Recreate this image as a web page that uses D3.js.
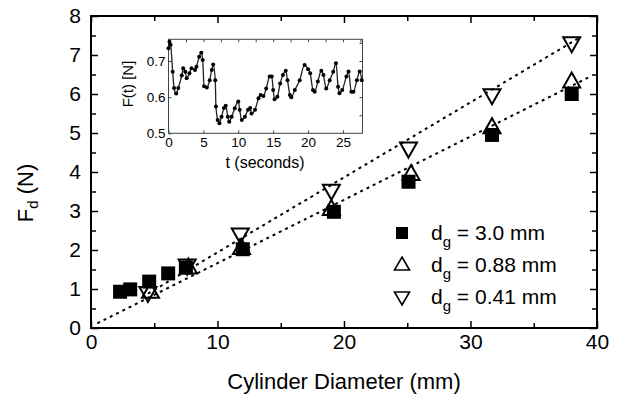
<!DOCTYPE html>
<html><head><meta charset="utf-8">
<script src="https://cdn.jsdelivr.net/npm/d3@7"></script>
<style>body{margin:0;background:#fff}svg{display:block;font-family:"Liberation Sans",Arial,sans-serif}</style>
</head><body><svg id="c" width="622" height="403"></svg>
<script>
// Main data: cylinder diameter (mm) vs drag force (N)
const dSquare = [2.3, 3.1, 4.6, 6.1, 7.5, 12.0, 19.2, 25.1, 31.7, 38.0];
const fSquare = [0.93, 0.99, 1.19, 1.40, 1.55, 2.02, 2.98, 3.75, 4.95, 6.0];
const dUp = [4.7, 7.7, 11.9, 19.0, 25.3, 31.7, 38.0];
const fUp = [0.93, 1.55, 2.05, 3.05, 3.95, 5.15, 6.32];
const dDown = [4.5, 7.6, 11.8, 19.0, 25.1, 31.7, 38.0];
const fDown = [0.9, 1.6, 2.4, 3.52, 4.6, 5.97, 7.3];
// Fit lines (endpoints)
const fitLow = [[0.5, 0.12], [39.3, 6.42]];
const fitHigh = [[4.5, 0.88], [38.6, 7.44]];
const xTicks = [0, 10, 20, 30, 40];
const yTicks = [0, 1, 2, 3, 4, 5, 6, 7, 8];
const legendLabels = ["3.0 mm", "0.88 mm", "0.41 mm"];
// Inset: time series F(t)
const tVals = [0.0,0.14,0.3,0.6,0.8,1.1,1.4,1.9,2.1,2.4,2.6,3.0,3.3,3.8,4.0,4.4,4.7,4.9,5.1,5.5,5.9,6.2,6.4,6.7,6.8,7.05,7.3,7.6,7.95,8.2,8.5,8.7,9.05,9.5,10.0,10.2,10.5,10.95,11.4,11.7,11.9,12.4,12.9,13.2,13.6,14.0,14.5,14.8,15.0,15.2,15.6,16.0,16.4,16.8,17.05,17.4,17.6,18.1,18.8,19.5,20.0,20.3,20.7,20.95,21.4,21.9,22.2,22.6,23.1,23.6,24.0,24.3,24.5,24.9,25.5,25.8,26.2,26.5,27.0,27.4,27.7];
const fVals = [0.735,0.753,0.745,0.67,0.625,0.61,0.625,0.66,0.68,0.67,0.652,0.666,0.68,0.675,0.684,0.712,0.723,0.703,0.63,0.627,0.647,0.675,0.69,0.647,0.574,0.537,0.528,0.546,0.57,0.576,0.546,0.532,0.546,0.569,0.588,0.565,0.537,0.546,0.565,0.57,0.555,0.565,0.597,0.606,0.603,0.624,0.657,0.657,0.62,0.594,0.601,0.638,0.661,0.673,0.647,0.606,0.6,0.62,0.647,0.689,0.677,0.666,0.62,0.615,0.643,0.673,0.661,0.624,0.647,0.67,0.694,0.629,0.611,0.62,0.657,0.671,0.615,0.615,0.647,0.671,0.647];
const insetXTicks = [0, 5, 10, 15, 20, 25];
const insetYTicks = [0.5, 0.6, 0.7];

const svg = d3.select("#c");
const x = d3.scaleLinear().domain([0, 40]).range([91, 597]);
const y = d3.scaleLinear().domain([0, 8]).range([328, 16]);

// dotted fit lines
const line = d3.line().x(d => x(d[0])).y(d => y(d[1]));
[fitLow, fitHigh].forEach(f => svg.append("path").attr("d", line(f))
  .attr("fill", "none").attr("stroke", "#000").attr("stroke-width", 2).attr("stroke-dasharray", "3,4"));

// axes
function styleAxis(g) { g.selectAll(".domain").remove(); g.selectAll("line").attr("stroke", "#000").attr("stroke-width", 1.5); }
const bx = svg.append("g").attr("transform", "translate(0,328)")
  .call(d3.axisBottom(x).tickValues(xTicks).tickSize(-7).tickPadding(6).tickFormat(d3.format("d")));
styleAxis(bx); bx.selectAll("text").attr("font-size", 21).attr("font-family", "Liberation Sans, Arial, sans-serif").attr("fill", "#000");
const bxm = svg.append("g").attr("transform", "translate(0,328)")
  .call(d3.axisBottom(x).tickValues([5, 15, 25, 35]).tickSize(-5).tickFormat(""));
styleAxis(bxm);
const tx = svg.append("g").attr("transform", "translate(0,16)")
  .call(d3.axisTop(x).tickValues(xTicks).tickSize(-7).tickFormat(""));
styleAxis(tx);
const txm = svg.append("g").attr("transform", "translate(0,16)")
  .call(d3.axisTop(x).tickValues([5, 15, 25, 35]).tickSize(-5).tickFormat(""));
styleAxis(txm);
const ly = svg.append("g").attr("transform", "translate(91,0)")
  .call(d3.axisLeft(y).tickValues(yTicks).tickSize(-7).tickPadding(10).tickFormat(d3.format("d")));
styleAxis(ly); ly.selectAll("text").attr("font-size", 21).attr("font-family", "Liberation Sans, Arial, sans-serif").attr("fill", "#000");
const lym = svg.append("g").attr("transform", "translate(91,0)")
  .call(d3.axisLeft(y).tickValues(d3.range(0.5, 8, 1)).tickSize(-5).tickFormat(""));
styleAxis(lym);
const ry = svg.append("g").attr("transform", "translate(597,0)")
  .call(d3.axisRight(y).tickValues(yTicks).tickSize(-7).tickFormat(""));
styleAxis(ry);
const rym = svg.append("g").attr("transform", "translate(597,0)")
  .call(d3.axisRight(y).tickValues(d3.range(0.5, 8, 1)).tickSize(-5).tickFormat(""));
styleAxis(rym);
svg.append("rect").attr("x", 91).attr("y", 16).attr("width", 506).attr("height", 312)
  .attr("fill", "none").attr("stroke", "#000").attr("stroke-width", 2);

// titles
svg.append("text").attr("x", 344).attr("y", 389).attr("text-anchor", "middle").attr("font-size", 22)
  .text("Cylinder Diameter (mm)");
const yt = svg.append("text").attr("transform", "translate(33,193) rotate(-90)").attr("text-anchor", "middle").attr("font-size", 22);
yt.append("tspan").text("F");
yt.append("tspan").attr("font-size", 15).attr("dy", 5).text("d");
yt.append("tspan").attr("dy", -5).text(" (N)");

// markers
const upPath = (cx, cy) => `M${cx},${cy-9}L${cx+8.5},${cy+6}L${cx-8.5},${cy+6}Z`;
const downPath = (cx, cy) => `M${cx},${cy+9}L${cx+8.5},${cy-6}L${cx-8.5},${cy-6}Z`;
svg.append("g").selectAll("path").data(dDown.map((d, i) => [d, fDown[i]])).join("path")
  .attr("d", d => downPath(x(d[0]), y(d[1]))).attr("fill", "none").attr("stroke", "#000").attr("stroke-width", 2);
svg.append("g").selectAll("path").data(dUp.map((d, i) => [d, fUp[i]])).join("path")
  .attr("d", d => upPath(x(d[0]), y(d[1]))).attr("fill", "none").attr("stroke", "#000").attr("stroke-width", 2);
svg.append("g").selectAll("rect").data(dSquare.map((d, i) => [d, fSquare[i]])).join("rect")
  .attr("x", d => x(d[0]) - 7).attr("y", d => y(d[1]) - 7).attr("width", 14).attr("height", 14).attr("fill", "#000");

// legend
const legY = [233, 265, 297];
legY.forEach((ly0, i) => {
  if (i === 0) svg.append("rect").attr("x", 396).attr("y", ly0 - 6).attr("width", 12).attr("height", 12).attr("fill", "#000");
  else if (i === 1) svg.append("path").attr("d", `M402,${ly0-8}L409.5,${ly0+5}L394.5,${ly0+5}Z`).attr("fill", "none").attr("stroke", "#000").attr("stroke-width", 1.6);
  else svg.append("path").attr("d", `M402,${ly0+8}L409.5,${ly0-5}L394.5,${ly0-5}Z`).attr("fill", "none").attr("stroke", "#000").attr("stroke-width", 1.6);
  const t = svg.append("text").attr("x", 431).attr("y", ly0 + 7).attr("font-size", 21);
  t.append("tspan").text("d");
  t.append("tspan").attr("font-size", 15).attr("dy", 7).text("g");
  t.append("tspan").attr("dy", -7).text(" = " + legendLabels[i]);
});

// inset
const ix = d3.scaleLinear().domain([0, 27.8]).range([168.5, 362.5]);
const iy = d3.scaleLinear().domain([0.5, 0.76]).range([133.3, 39.3]);
const ig = svg.append("g");
ig.append("rect").attr("x", 168.5).attr("y", 39.3).attr("width", 194).attr("height", 94)
  .attr("fill", "#fff").attr("stroke", "#444").attr("stroke-width", 1);
const ibx = ig.append("g").attr("transform", "translate(0,133.3)")
  .call(d3.axisBottom(ix).tickValues(insetXTicks).tickSize(-3).tickPadding(4).tickFormat(d3.format("d")));
ibx.selectAll(".domain").remove(); ibx.selectAll("line").attr("stroke", "#444");
ibx.selectAll("text").attr("font-size", 13.5).attr("fill", "#000").attr("font-family", "Liberation Sans, Arial, sans-serif");
const itx = ig.append("g").attr("transform", "translate(0,39.3)")
  .call(d3.axisTop(ix).tickValues(d3.range(2.5, 27.6, 2.5)).tickSize(-3).tickFormat(""));
itx.selectAll(".domain").remove(); itx.selectAll("line").attr("stroke", "#444");
const ily = ig.append("g").attr("transform", "translate(168.5,0)")
  .call(d3.axisLeft(iy).tickValues(insetYTicks).tickSize(-3).tickPadding(3).tickFormat(d3.format(".1f")));
ily.selectAll(".domain").remove(); ily.selectAll("line").attr("stroke", "#444");
ily.selectAll("text").attr("font-size", 13.5).attr("fill", "#000").attr("font-family", "Liberation Sans, Arial, sans-serif");
const iry = ig.append("g").attr("transform", "translate(362.5,0)")
  .call(d3.axisRight(iy).tickValues(d3.range(0.55, 0.76, 0.05)).tickSize(-3).tickFormat(""));
iry.selectAll(".domain").remove(); iry.selectAll("line").attr("stroke", "#444");
const ts = tVals.map((t, i) => [t, fVals[i]]);
ig.append("path").attr("d", d3.line().x(d => ix(d[0])).y(d => iy(d[1])).curve(d3.curveMonotoneX)(ts))
  .attr("fill", "none").attr("stroke", "#222").attr("stroke-width", 1.3);
ig.selectAll("circle").data(ts).join("circle").attr("cx", d => ix(d[0])).attr("cy", d => iy(d[1])).attr("r", 2).attr("fill", "#000");
ig.append("text").attr("x", 265).attr("y", 168).attr("text-anchor", "middle").attr("font-size", 16).text("t (seconds)");
ig.append("text").attr("transform", "translate(133,84) rotate(-90)").attr("text-anchor", "middle").attr("font-size", 15).text("F(t) [N]");
</script></body></html>
